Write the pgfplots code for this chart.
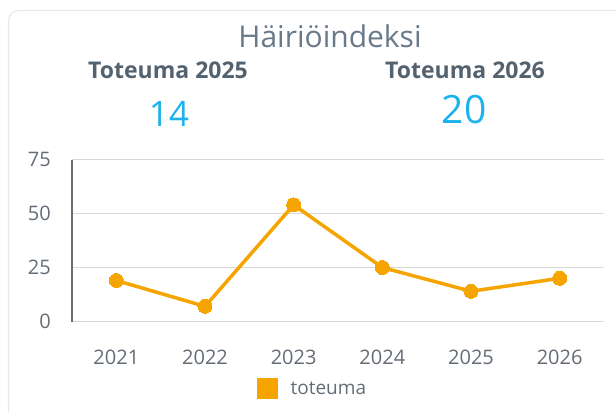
\documentclass[border=0pt]{standalone}
\usepackage{fontspec}
\setmainfont{Open Sans}
\usepackage{pgfplots}
\pgfplotsset{compat=1.18}
\definecolor{lineorange}{RGB}{246,165,0}
\definecolor{titlegray}{RGB}{104,121,138}
\definecolor{boldgray}{RGB}{84,98,112}
\definecolor{numcyan}{RGB}{28,178,238}
\definecolor{ticklab}{RGB}{100,108,118}
\definecolor{gridgray}{RGB}{216,216,216}
\definecolor{axisgray}{RGB}{110,110,110}
\definecolor{cardgray}{RGB}{232,232,232}
\begin{document}
\begin{tikzpicture}
\path[use as bounding box] (0pt,0pt) rectangle (616pt,-412pt);
\draw[draw=cardgray, line width=1.2pt, rounded corners=10pt] (8.5pt,-10.5pt) rectangle (660pt,-460pt);
\node[anchor=base, text=titlegray, font=\fontsize{30}{34}\selectfont, inner sep=0pt] at (330pt,-47.7pt) {Häiriöindeksi};
\node[anchor=base, text=boldgray, font=\fontsize{23}{26}\selectfont\bfseries, inner sep=0pt] at (168pt,-78pt) {Toteuma 2025};
\node[anchor=base, text=boldgray, font=\fontsize{23}{26}\selectfont\bfseries, inner sep=0pt] at (465pt,-78pt) {Toteuma 2026};
\node[anchor=base, text=numcyan, font=\fontsize{35}{40}\selectfont, inner sep=0pt] at (169pt,-126.5pt) {14};
\node[anchor=base, text=numcyan, font=\fontsize{39}{44}\selectfont, inner sep=0pt] at (464pt,-124pt) {20};
\begin{axis}[
  at={(72pt,-321.5pt)}, anchor=south west,
  scale only axis, width=532pt, height=162pt,
  xmin=-0.5, xmax=5.5, ymin=0, ymax=75,
  xtick={0,1,2,3,4,5}, xticklabels={2021,2022,2023,2024,2025,2026},
  ytick={0,25,50,75},
  ymajorgrids, grid style={draw=gridgray, line width=1.5pt},
  axis lines=left,
  x axis line style={draw=none},
  y axis line style={draw=axisgray, line width=1.5pt, -},
  major tick length=0pt,
  tick label style={font=\fontsize{20}{23}\selectfont, text=ticklab},
  /pgf/number format/assume math mode=true,
  yticklabel style={anchor=east, inner sep=0pt, xshift=-21pt},
  xticklabel style={anchor=north, inner sep=0pt, yshift=-28pt},
  legend style={at={(axis description cs:0.348,-0.414)}, anchor=west, draw=none, fill=none, inner sep=0pt, outer sep=0pt, font=\fontsize{19}{22}\selectfont, text=ticklab},
  legend cell align=left,
  legend image code/.code={\fill[lineorange] (0pt,-8.5pt) rectangle (17pt,8.5pt);},
  clip=false,
]
\addplot[color=lineorange, line width=3.5pt, mark=*, mark size=7pt, mark options={fill=lineorange, draw=lineorange, line width=0pt}]
  coordinates {(0,19) (1,7) (2,54) (3,25) (4,14) (5,20)};
\addlegendentry{\hspace{11pt}toteuma}
\end{axis}
\end{tikzpicture}
\end{document}
